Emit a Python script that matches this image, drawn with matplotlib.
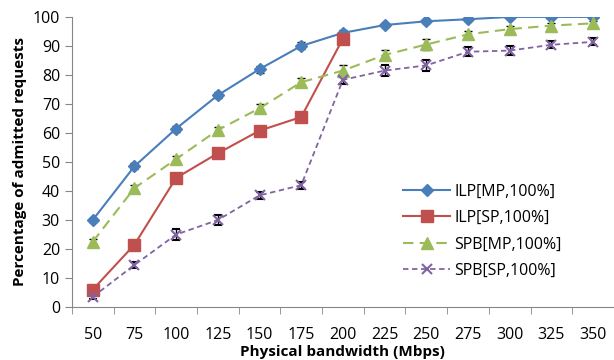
import matplotlib.pyplot as plt

plt.rcParams['font.family'] = ['Open Sans', 'DejaVu Sans']

bandwidth = [50, 75, 100, 125, 150, 175, 200, 225, 250, 275, 300, 325, 350]

ilp_mp = [30, 48.5, 61.5, 73, 82, 90, 94.5, 97.2, 98.5, 99.2, 100, 100, 100]
ilp_mp_err = [0.8, 1.0, 1.0, 1.0, 1.2, 1.2, 1.0, 0.8, 0.6, 0.5, 0.3, 0.3, 0.3]

ilp_sp = [6, 21.5, 44.5, 53, 60.8, 65.5, 92.5]
ilp_sp_err = [0.5, 0.8, 0.8, 0.8, 0.8, 0.8, 0.8]

spb_mp = [22.5, 41, 51, 61, 68.5, 77.5, 81.5, 86.9, 90.5, 94, 95.8, 97, 97.8]
spb_mp_err = [1.0, 1.0, 1.2, 1.2, 1.5, 1.5, 1.8, 1.8, 1.8, 1.2, 1.0, 1.0, 0.8]

spb_sp = [3.5, 14.5, 25, 30, 38.5, 42, 78.3, 81.5, 83.3, 88, 88.4, 90.4, 91.4]
spb_sp_err = [0.8, 1.2, 1.8, 1.8, 1.2, 1.2, 1.5, 1.8, 1.8, 1.5, 1.5, 1.2, 1.2]

pos = list(range(len(bandwidth)))

fig = plt.figure(figsize=(6.14, 3.6), dpi=100)
ax = fig.add_axes([0.117, 0.147, 0.883, 0.806])

err_kw = dict(ecolor="black", elinewidth=1, capsize=3, capthick=1)

ax.errorbar(pos, ilp_mp, yerr=ilp_mp_err, color="#4A7EBB", linewidth=1.5,
            marker="D", markersize=6, label="ILP[MP,100%]", **err_kw)
ax.errorbar(pos[:len(ilp_sp)], ilp_sp, yerr=ilp_sp_err, color="#C0504D",
            linewidth=1.5, marker="s", markersize=8, label="ILP[SP,100%]",
            **err_kw)
ax.errorbar(pos, spb_mp, yerr=spb_mp_err, color="#9BBB59", linewidth=1.5,
            linestyle=(0, (5, 3)), marker="^", markersize=8,
            label="SPB[MP,100%]", **err_kw)
ax.errorbar(pos, spb_sp, yerr=spb_sp_err, color="#8064A2", linewidth=1.3,
            linestyle=(0, (3, 2)), marker="x", markersize=7, markeredgewidth=1.5,
            label="SPB[SP,100%]", **err_kw)

ax.set_xlim(-0.5, len(bandwidth) - 0.5)
ax.set_ylim(0, 100)
ax.set_yticks(range(0, 101, 10))
ax.set_xticks(pos)
ax.set_xticklabels([str(b) for b in bandwidth])
ax.set_xticks([p - 0.5 for p in pos] + [len(pos) - 0.5], minor=True)
ax.tick_params(axis="x", which="major", length=0, pad=14, labelsize=11.5)
ax.tick_params(axis="x", which="minor", length=5, color="#868686")
ax.tick_params(axis="y", length=5, color="#868686", labelsize=11.5)

for s in ["top", "right"]:
    ax.spines[s].set_visible(False)
for s in ["left", "bottom"]:
    ax.spines[s].set_color("#868686")

ax.set_xlabel("Physical bandwidth (Mbps)", fontweight="bold", fontsize=11, labelpad=2)
ax.set_ylabel("Percentage of admitted requests", fontweight="bold", fontsize=11)

handles, labels = ax.get_legend_handles_labels()
handles = [h[0] for h in handles]
ax.legend(handles, labels, loc="upper left", bbox_to_anchor=(0.585, 0.475),
          frameon=False, fontsize=11.5, handlelength=2.9, labelspacing=0.65,
          handletextpad=0.3)

fig.savefig("out.png", dpi=100)
